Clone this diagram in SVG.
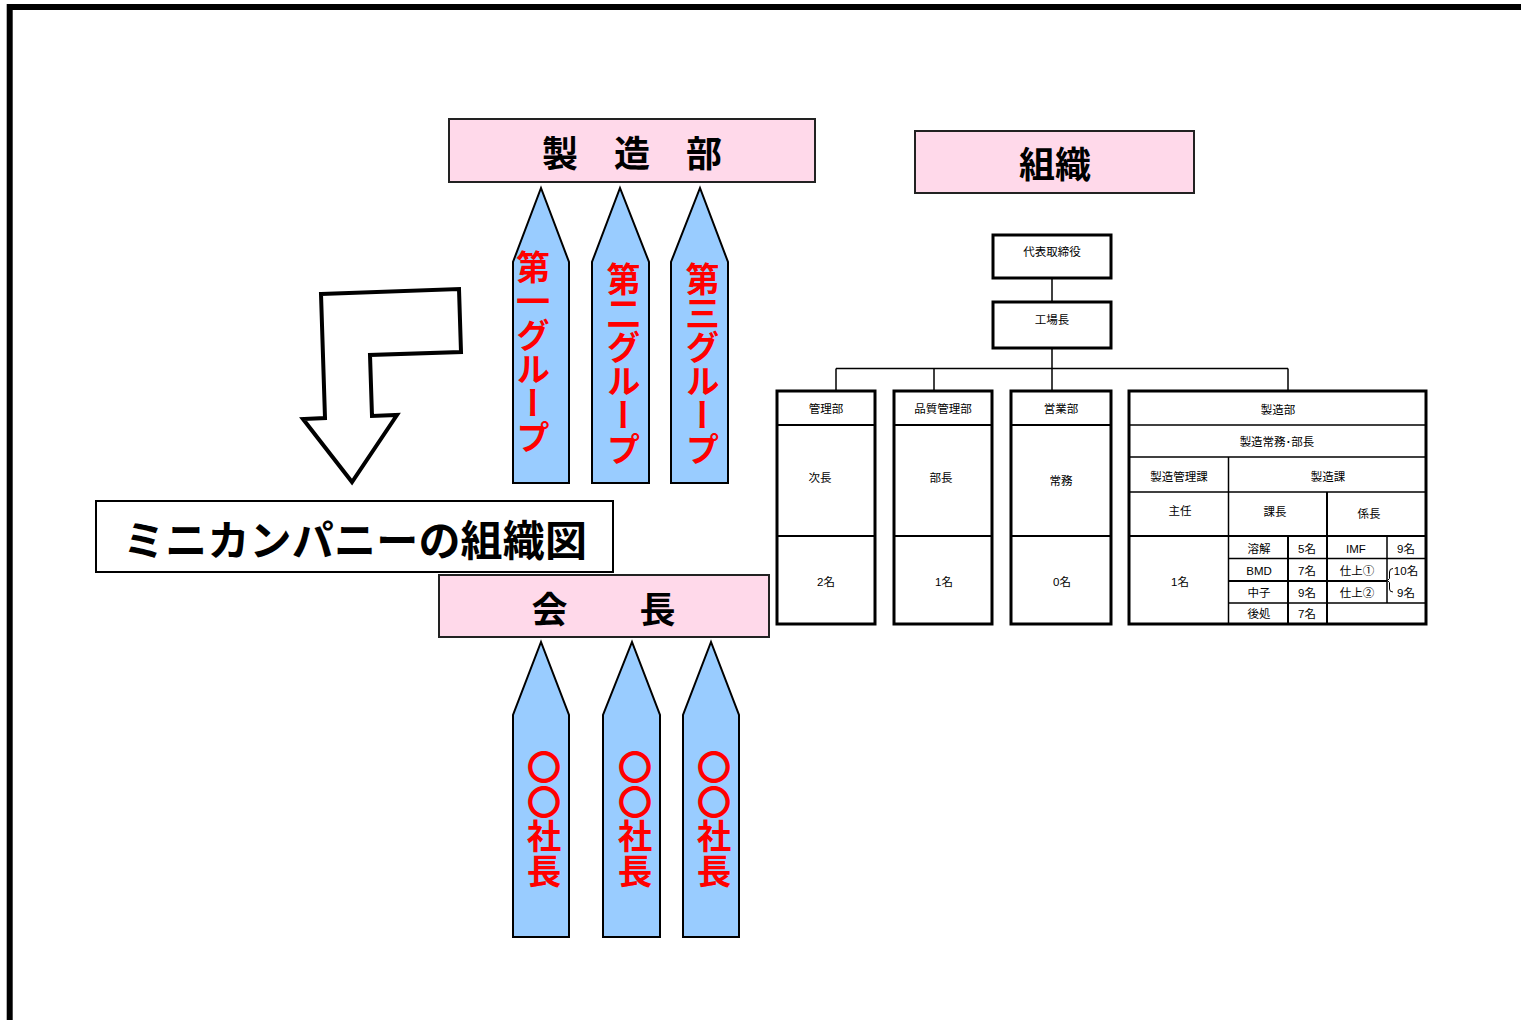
<svg xmlns="http://www.w3.org/2000/svg" width="1521" height="1020" viewBox="0 0 1521 1020">
<style>
.pink{fill:#FFD9EA;stroke:#222;stroke-width:2}
.blue{fill:#99CCFF;stroke:#000;stroke-width:2;stroke-linejoin:miter}
.big{font-family:"Noto Sans CJK JP",sans-serif;font-weight:bold;font-size:36px;text-anchor:middle;dominant-baseline:central;fill:#000}
.vt{font-family:"Noto Sans CJK JP",sans-serif;font-weight:bold;font-size:34px;fill:#FF0000;writing-mode:vertical-rl;dominant-baseline:central}
.box{fill:#fff;stroke:#000;stroke-width:3}
.ln{stroke:#000;stroke-width:2;fill:none}
.thin{stroke:#000;stroke-width:1.5;fill:none}
.lbl{font-family:"Liberation Sans","Noto Sans CJK JP",sans-serif;font-size:11.5px;text-anchor:middle;dominant-baseline:central;fill:#000}
</style>
<rect width="1521" height="1020" fill="#fff"/>
<path d="M9.7,1020 V7 H1521" fill="none" stroke="#000" stroke-width="6"/>

<g id="bent-arrow">
<polygon points="321,294 459,289 461,352 370,355 372,416 397,415 352,482 303,419 325,418" fill="#fff" stroke="#000" stroke-width="4"/>
</g>

<g id="seizoubu">
<rect class="pink" x="449" y="119" width="366" height="63"/>
<text class="big" x="632" y="151">製　造　部</text>
</g>

<g id="group1">
<polygon class="blue" points="513,483 513,262 541,188 569,262 569,483"/>
<text class="vt" x="533" y="250">第一グループ</text>
</g>
<g id="group2">
<polygon class="blue" points="592,483 592,262 620,188 649,262 649,483"/>
<text class="vt" x="623.5" y="262">第二グループ</text>
</g>
<g id="group3">
<polygon class="blue" points="671,483 671,262 700,188 728,262 728,483"/>
<text class="vt" x="702.5" y="262">第三グループ</text>
</g>

<g id="title">
<rect x="96" y="501" width="517" height="71" fill="#fff" stroke="#000" stroke-width="2"/>
<text x="355" y="537" font-family="'Noto Sans CJK JP',sans-serif" font-weight="bold" font-size="42" text-anchor="middle" dominant-baseline="central" textLength="464">ミニカンパニーの組織図</text>
</g>

<g id="kaichou">
<rect class="pink" x="439" y="575" width="330" height="62"/>
<text class="big" x="603.5" y="607">会　　長</text>
</g>

<g id="pres1">
<polygon class="blue" points="513,937 513,715 541,642 569,715 569,937"/>
<text class="vt" x="544" y="750" style="font-size:34.5px">〇〇社長</text>
</g>
<g id="pres2">
<polygon class="blue" points="603,937 603,715 632,642 660,715 660,937"/>
<text class="vt" x="635" y="750" style="font-size:34.5px">〇〇社長</text>
</g>
<g id="pres3">
<polygon class="blue" points="683,937 683,715 711,642 739,715 739,937"/>
<text class="vt" x="714" y="750" style="font-size:34.5px">〇〇社長</text>
</g>

<g id="soshiki">
<rect class="pink" x="915" y="131" width="279" height="62"/>
<text class="big" x="1055" y="162">組織</text>
</g>

<g id="connectors">
<line class="thin" x1="1052" y1="278" x2="1052" y2="302"/>
<line class="thin" x1="1052" y1="348" x2="1052" y2="391"/>
<line class="thin" x1="836" y1="368.5" x2="1288" y2="368.5"/>
<line class="thin" x1="836" y1="368.5" x2="836" y2="391"/>
<line class="thin" x1="934" y1="368.5" x2="934" y2="391"/>
<line class="thin" x1="1288" y1="368.5" x2="1288" y2="391"/>
</g>

<g id="daihyou">
<rect class="box" x="993" y="235" width="118" height="43"/>
<text class="lbl" x="1052" y="252">代表取締役</text>
</g>
<g id="koujouchou">
<rect class="box" x="993" y="302" width="118" height="46"/>
<text class="lbl" x="1052" y="320">工場長</text>
</g>

<g id="kanribu">
<rect class="box" x="777" y="391" width="98" height="233"/>
<line class="ln" x1="777" y1="425" x2="875" y2="425"/>
<line class="ln" x1="777" y1="536" x2="875" y2="536"/>
<text class="lbl" x="826" y="409">管理部</text>
<text class="lbl" x="820" y="478">次長</text>
<text class="lbl" x="826" y="582">2名</text>
</g>
<g id="hinshitsu">
<rect class="box" x="894" y="391" width="98" height="233"/>
<line class="ln" x1="894" y1="425" x2="992" y2="425"/>
<line class="ln" x1="894" y1="536" x2="992" y2="536"/>
<text class="lbl" x="943" y="409">品質管理部</text>
<text class="lbl" x="941" y="478">部長</text>
<text class="lbl" x="944" y="582">1名</text>
</g>
<g id="eigyou">
<rect class="box" x="1011" y="391" width="100" height="233"/>
<line class="ln" x1="1011" y1="425" x2="1111" y2="425"/>
<line class="ln" x1="1011" y1="536" x2="1111" y2="536"/>
<text class="lbl" x="1061" y="409">営業部</text>
<text class="lbl" x="1061" y="481">常務</text>
<text class="lbl" x="1062" y="582">0名</text>
</g>
<g id="seizou-table">
<rect class="box" x="1129" y="391" width="297" height="233"/>
<line class="thin" x1="1129" y1="425" x2="1426" y2="425"/>
<line class="thin" x1="1129" y1="457" x2="1426" y2="457"/>
<line class="thin" x1="1129" y1="492" x2="1426" y2="492"/>
<line class="ln" x1="1129" y1="536" x2="1426" y2="536"/>
<line class="thin" x1="1228.5" y1="457" x2="1228.5" y2="624"/>
<line class="ln" x1="1327" y1="492" x2="1327" y2="624"/>
<line class="thin" x1="1228.5" y1="558.5" x2="1426" y2="558.5"/>
<line class="ln" x1="1228.5" y1="581" x2="1387" y2="581"/>
<line class="thin" x1="1228.5" y1="603" x2="1426" y2="603"/>
<line class="ln" x1="1288" y1="536" x2="1288" y2="624"/>
<line class="thin" x1="1387" y1="536" x2="1387" y2="603"/>
<path d="M1393,568.5 Q1389.5,568.5 1389.5,572 V578.5 L1387.5,580.5 L1389.5,582.5 V589 Q1389.5,592 1393,592" fill="none" stroke="#000" stroke-width="1"/>
<text class="lbl" x="1278" y="410">製造部</text>
<text class="lbl" x="1277" y="442">製造常務･部長</text>
<text class="lbl" x="1179" y="477">製造管理課</text>
<text class="lbl" x="1328" y="477">製造課</text>
<text class="lbl" x="1180" y="511">主任</text>
<text class="lbl" x="1275" y="512">課長</text>
<text class="lbl" x="1369" y="514">係長</text>
<text class="lbl" x="1180" y="582">1名</text>
<text class="lbl" x="1259" y="549">溶解</text>
<text class="lbl" x="1307" y="549">5名</text>
<text class="lbl" x="1356" y="549">IMF</text>
<text class="lbl" x="1406" y="549">9名</text>
<text class="lbl" x="1259" y="571">BMD</text>
<text class="lbl" x="1307" y="571">7名</text>
<text class="lbl" x="1357" y="571">仕上①</text>
<text class="lbl" x="1406" y="571">10名</text>
<text class="lbl" x="1259" y="593">中子</text>
<text class="lbl" x="1307" y="593">9名</text>
<text class="lbl" x="1357" y="593">仕上②</text>
<text class="lbl" x="1406" y="593">9名</text>
<text class="lbl" x="1259" y="614">後処</text>
<text class="lbl" x="1307" y="614">7名</text>
</g>
</svg>
